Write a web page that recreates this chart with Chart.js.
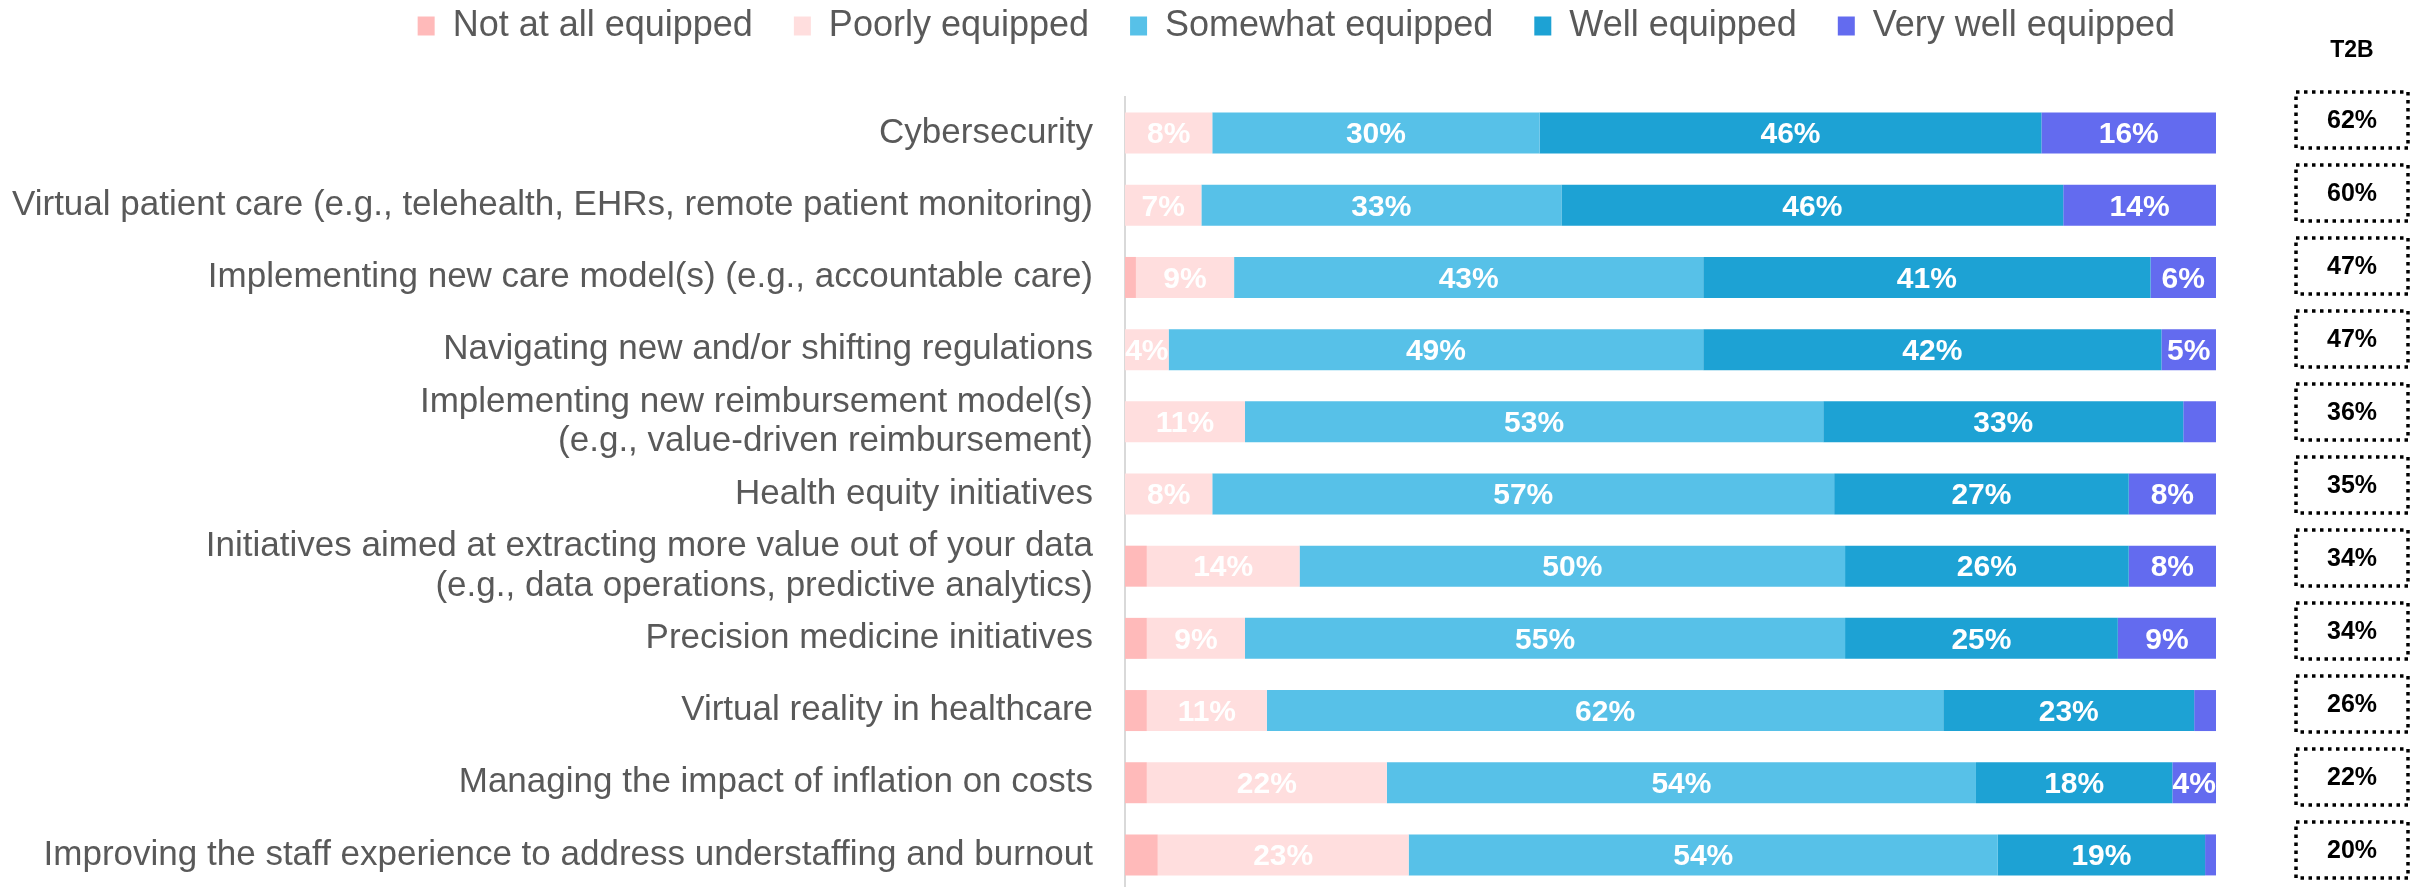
<!DOCTYPE html>
<html>
<head>
<meta charset="utf-8">
<script src="https://cdn.jsdelivr.net/npm/chart.js@4/dist/chart.umd.min.js"></script>
<style>
  html, body { margin: 0; padding: 0; background: #ffffff; overflow: hidden; }
  #wrap { width: 2428px; height: 891px; }
</style>
</head>
<body>
<div id="wrap"><canvas id="c" width="2428" height="891"></canvas></div>
<script>
const categories = [
  "Cybersecurity",
  "Virtual patient care (e.g., telehealth, EHRs, remote patient monitoring)",
  "Implementing new care model(s) (e.g., accountable care)",
  "Navigating new and/or shifting regulations",
  ["Implementing new reimbursement model(s)", "(e.g., value-driven reimbursement)"],
  "Health equity initiatives",
  ["Initiatives aimed at extracting more value out of your data", "(e.g., data operations, predictive analytics)"],
  "Precision medicine initiatives",
  "Virtual reality in healthcare",
  "Managing the impact of inflation on costs",
  "Improving the staff experience to address understaffing and burnout"
];
const seriesNames = ["Not at all equipped", "Poorly equipped", "Somewhat equipped", "Well equipped", "Very well equipped"];
const notAtAll   = [0, 0, 1, 0, 0, 0, 2, 2, 2, 2, 3];
const poorly     = [8, 7, 9, 4, 11, 8, 14, 9, 11, 22, 23];
const somewhat   = [30, 33, 43, 49, 53, 57, 50, 55, 62, 54, 54];
const well       = [46, 46, 41, 42, 33, 27, 26, 25, 23, 18, 19];
const veryWell   = [16, 14, 6, 5, 3, 8, 8, 9, 2, 4, 1];
const t2b        = [62, 60, 47, 47, 36, 35, 34, 34, 26, 22, 20];
const t2bTitle = "T2B";

const colors = ["#FFBABA", "#FFDEDE", "#57C1E8", "#1DA2D4", "#636BEF"];
const seriesData = [notAtAll, poorly, somewhat, well, veryWell];

const valueLabels = {
  id: 'valueLabels',
  afterDatasetsDraw(chart) {
    const ctx = chart.ctx;
    ctx.save();
    ctx.font = "bold 30px 'Liberation Sans', Arial, sans-serif";
    ctx.fillStyle = "#ffffff";
    ctx.textAlign = "center";
    ctx.textBaseline = "middle";
    chart.data.datasets.forEach((ds, d) => {
      const meta = chart.getDatasetMeta(d);
      meta.data.forEach((el, i) => {
        const v = ds.data[i];
        if (v >= 4) {
          ctx.fillText(v + "%", (el.x + el.base) / 2, el.y + 2);
        }
      });
    });
    ctx.restore();
  }
};

const t2bColumn = {
  id: 't2bColumn',
  afterDraw(chart) {
    const ctx = chart.ctx;
    const ys = chart.scales.y;
    const cx = 2352, w = 112, h = 56;
    ctx.save();
    ctx.fillStyle = "#000000";
    ctx.textAlign = "center";
    ctx.textBaseline = "middle";
    ctx.font = "bold 23px 'Liberation Sans', Arial, sans-serif";
    ctx.fillText(t2bTitle, cx, 51);
    ctx.font = "bold 25px 'Liberation Sans', Arial, sans-serif";
    t2b.forEach((v, i) => {
      const yc = ys.getPixelForValue(i) - 13 + 0.8 * i;
      ctx.strokeStyle = "#000000";
      ctx.lineWidth = 3.5;
      ctx.setLineDash([3.5, 4.5]);
      ctx.strokeRect(cx - w / 2, yc - h / 2, w, h);
      ctx.setLineDash([]);
      ctx.fillText(v + "%", cx, yc + 1);
    });
    ctx.restore();
  }
};

new Chart(document.getElementById('c'), {
  type: 'bar',
  data: {
    labels: categories,
    datasets: seriesNames.map((name, k) => ({
      label: name,
      data: seriesData[k],
      backgroundColor: colors[k],
      borderWidth: 0,
      barPercentage: 0.568,
      categoryPercentage: 1.0
    }))
  },
  options: {
    indexAxis: 'y',
    responsive: false,
    animation: false,
    devicePixelRatio: 1,
    layout: { padding: { top: -33, right: 212, left: 0, bottom: 0 } },
    scales: {
      x: {
        stacked: true,
        min: 0,
        max: 100,
        position: 'top',
        display: true,
        ticks: { display: false },
        grid: { display: false, drawTicks: false },
        border: { display: false },
        afterFit(scale) { scale.height = 43; scale.paddingLeft = 0; scale.paddingRight = 0; }
      },
      y: {
        stacked: true,
        grid: { display: false, drawTicks: false },
        border: { display: true, color: '#D9D9D9', width: 2 },
        ticks: {
          color: '#595959',
          padding: 32,
          autoSkip: false,
          font: { family: "'Liberation Sans', Arial, sans-serif", size: 35, lineHeight: 1.14 }
        },
        afterFit(scale) { scale.width = 1125; scale.paddingTop = 0; scale.paddingBottom = 0; }
      }
    },
    plugins: {
      legend: {
        position: 'top',
        align: 'end',
        labels: {
          boxWidth: 17,
          boxHeight: 19,
          padding: 41,
          color: '#595959',
          font: { family: "'Liberation Sans', Arial, sans-serif", size: 36 }
        }
      },
      tooltip: { enabled: false },
      title: { display: false }
    }
  },
  plugins: [valueLabels, t2bColumn]
});
</script>
</body>
</html>
